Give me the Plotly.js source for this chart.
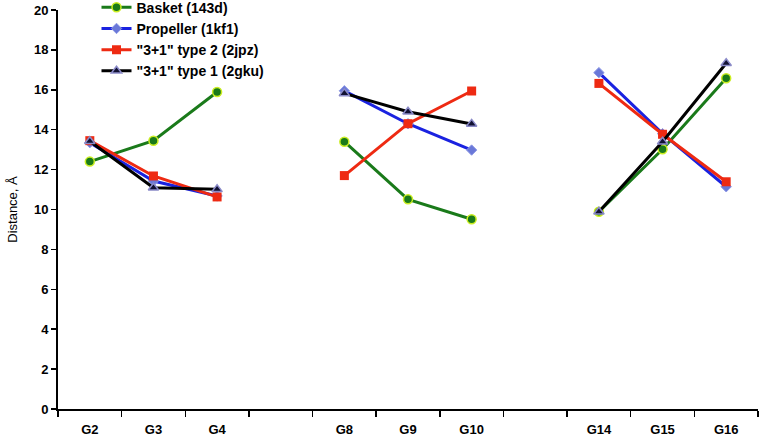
<!DOCTYPE html>
<html>
<head>
<meta charset="utf-8">
<script src="https://cdn.plot.ly/plotly-3.0.1.min.js"></script>
<style>html,body{margin:0;padding:0;background:#fff;}#chart{width:760px;height:439px;}</style>
</head>
<body>
<div id="chart"></div>
<script>
const categories = ["G2","G3","G4"," ","G8","G9","G10","  ","G14","G15","G16"];
const basket    = [12.40, 13.45, 15.89, null, 13.40, 10.51, 9.51, null, 9.89, 13.02, 16.58];
const propeller = [13.35, 11.43, 10.68, null, 15.95, 14.30, 12.98, null, 16.86, 13.80, 11.14];
const type2     = [13.45, 11.68, 10.63, null, 11.70, 14.30, 15.94, null, 16.32, 13.77, 11.39];
const type1     = [13.42, 11.09, 11.01, null, 15.82, 14.90, 14.29, null, 9.89, 13.40, 17.33];
const seriesNames = ["Basket (143d)", "Propeller (1kf1)", "\"3+1\" type 2 (2jpz)", "\"3+1\" type 1 (2gku)"];

const traces = [
  {x: categories, y: basket, name: seriesNames[0], mode: "lines+markers",
   line: {color: "#1a7a1a", width: 3},
   marker: {symbol: "circle", size: 9, color: "#1a7a1a", line: {color: "#ccee22", width: 1.5}}},
  {x: categories, y: propeller, name: seriesNames[1], mode: "lines+markers",
   line: {color: "#1a22e0", width: 3},
   marker: {symbol: "diamond", size: 8, color: "#6a78d8", line: {color: "#8f9ae6", width: 1}}},
  {x: categories, y: type2, name: seriesNames[2], mode: "lines+markers",
   line: {color: "#ee2a12", width: 3},
   marker: {symbol: "square", size: 9, color: "#ee2a12", line: {color: "#ee2a12", width: 0}}},
  {x: categories, y: type1, name: seriesNames[3], mode: "lines+markers",
   line: {color: "#000000", width: 3},
   marker: {symbol: "triangle-up", size: 9, color: "#111133", line: {color: "#8a8ac8", width: 1.5}}}
];

const layout = {
  width: 760, height: 439,
  margin: {l: 58, r: 2, t: 10, b: 30, autoexpand: false},
  paper_bgcolor: "#fff", plot_bgcolor: "#fff",
  font: {family: "Liberation Sans, Arial, sans-serif", color: "#000"},
  showlegend: true,
  legend: {x: 0.055, y: 1.046, xanchor: "left", yanchor: "top", bgcolor: "rgba(0,0,0,0)",
           font: {size: 14, weight: "bold"}, tracegroupgap: 0, itemwidth: 30},
  xaxis: {type: "category", categoryorder: "array", categoryarray: categories,
          range: [-0.5, 10.5], tickson: "boundaries", ticks: "outside", ticklen: 6, tickwidth: 1.5,
          tickcolor: "#000", showline: true, linecolor: "#000", linewidth: 2, ticklabelstandoff: 7,
          showgrid: false, zeroline: false, tickfont: {size: 13, weight: "bold"}},
  yaxis: {range: [0, 20], dtick: 2, ticks: "outside", ticklen: 5, tickwidth: 1.5, tickcolor: "#000",
          showline: true, linecolor: "#000", linewidth: 2, showgrid: false, zeroline: false,
          tickfont: {size: 13, weight: "bold"},
          title: {text: "Distance, Å", font: {size: 13}, standoff: 13}}
};

Plotly.newPlot("chart", traces, layout, {displayModeBar: false, staticPlot: true});
</script>
</body>
</html>
